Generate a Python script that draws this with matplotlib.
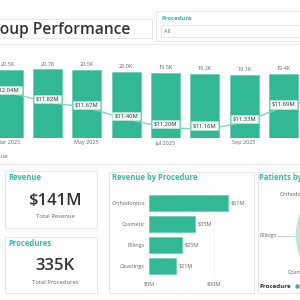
import matplotlib
matplotlib.use("Agg")
import matplotlib.pyplot as plt
from matplotlib.patches import Rectangle, PathPatch
from matplotlib.path import Path

plt.rcParams['font.family'] = ['Open Sans', 'DejaVu Sans']

# monthly combo chart (Feb and Nov sit mostly outside the visible crop)
months = ['Feb 2025', 'Mar 2025', 'Apr 2025', 'May 2025', 'Jun 2025',
          'Jul 2025', 'Aug 2025', 'Sep 2025', 'Oct 2025', 'Nov 2025']
procedures_k = [20.6, 20.5, 20.7, 20.5, 20.0, 19.5, 19.2, 19.1, 19.4, 19.8]
revenue_m = [12.10, 12.04, 11.82, 11.67, 11.40, 11.20, 11.16, 11.33, 11.69, 11.95]
labelled_months = ['Mar 2025', 'May 2025', 'Jul 2025', 'Sep 2025', 'Nov 2025']

# revenue by procedure
proc_names = ['Orthodontics', 'Cosmetic', 'Fillings', 'Cleanings']
proc_revenue_m = [61, 35, 25, 21]

# patients by procedure (pie is mostly off-canvas)
pie_names = ['Orthodontics', 'Fillings', 'Cosmetic', 'Cleanings']
pie_patients = [30, 22, 26, 22]

total_revenue = '$141M'
total_procedures = '335K'

TEAL = '#33B896'
TEAL_TXT = '#35BE9B'
LINE = '#80D5BD'
DARK = '#333333'
GRAY = '#666666'
BORDER = '#E3E3E3'

fig = plt.figure(figsize=(3, 3), dpi=100)
fig.patch.set_facecolor('white')


def px_axes(x0, y0, x1, y1, **kw):
    return fig.add_axes([x0 / 300, 1 - y1 / 300, (x1 - x0) / 300, (y1 - y0) / 300], **kw)


# overlay in pixel coords for cards and static text
ov = px_axes(0, 0, 300, 300)
ov.set_xlim(0, 300)
ov.set_ylim(300, 0)
ov.axis('off')


def card(x0, y0, x1, y1):
    ov.add_patch(Rectangle((x0, y0), x1 - x0, y1 - y0, fc='white', ec=BORDER, lw=0.6))


card(-10, 19, 152, 38)
ov.text(130, 29.5, 'Group Performance', ha='right', va='center', fontsize=11.2,
        fontweight='semibold', color=DARK)

card(156, 11, 310, 41)
ov.text(162, 18, 'Procedure', ha='left', va='center', fontsize=4.3, fontweight='bold', color=TEAL_TXT)
card(161, 25, 310, 37)
ov.text(163.5, 31.5, 'All', ha='left', va='center', fontsize=4, color=GRAY)

card(-10, 44, 310, 164)
ov.text(8, 156, 'Revenue', ha='right', va='center', fontsize=4.2, color=GRAY)

card(5, 171, 97, 228)
ov.text(8, 178, 'Revenue', ha='left', va='center', fontsize=5.5, fontweight='bold', color=TEAL_TXT)
ov.text(55, 201, total_revenue, ha='center', va='center', fontsize=12, fontweight='semibold', color=DARK)
ov.text(55, 217, 'Total Revenue', ha='center', va='center', fontsize=4.2, color=GRAY)

card(5, 237, 97, 293)
ov.text(8, 243.5, 'Procedures', ha='left', va='center', fontsize=5.5, fontweight='bold', color=TEAL_TXT)
ov.text(55, 266, total_procedures, ha='center', va='center', fontsize=12, fontweight='semibold', color=DARK)
ov.text(55, 283, 'Total Procedures', ha='center', va='center', fontsize=4.2, color=GRAY)

card(109, 172, 254, 293)
ov.text(112, 177.5, 'Revenue by Procedure', ha='left', va='center', fontsize=5.5,
        fontweight='bold', color=TEAL_TXT)

card(258, 172, 310, 293)
ov.text(259, 177.5, 'Patients by Procedure', ha='left', va='center', fontsize=5.5,
        fontweight='bold', color=TEAL_TXT)
ov.text(259, 286, 'Procedure', ha='left', va='center', fontsize=4.5, fontweight='bold', color=DARK)
ov.plot([297], [286], 'o', ms=2.2, color=TEAL)

# combo chart: bars + smoothed line
idx = list(range(len(months)))
ax = px_axes(0, 60, 300, 138)
ax.set_facecolor('none')
bars = ax.bar(idx, procedures_k, width=0.74, color=TEAL, edgecolor='#5CC9AC', lw=0.4)
ax.bar_label(bars, labels=[f'{v:.1f}K' for v in procedures_k], padding=2, fontsize=4, color=GRAY)
ax.set_yticks([])
ax.set_xticks([months.index(m) for m in labelled_months])
ax.set_xticklabels(labelled_months, fontsize=4, color=GRAY)
ax.tick_params(axis='x', length=0, pad=1.5)
for s in ax.spines.values():
    s.set_visible(False)

ax2 = ax.twinx()
ax2.axis('off')
pts = list(zip(idx, revenue_m))
verts = [pts[0]]
codes = [Path.MOVETO]
for i in range(len(pts) - 1):
    p0 = pts[max(i - 1, 0)]
    p1, p2 = pts[i], pts[i + 1]
    p3 = pts[min(i + 2, len(pts) - 1)]
    c1 = (p1[0] + (p2[0] - p0[0]) / 6, p1[1] + (p2[1] - p0[1]) / 6)
    c2 = (p2[0] - (p3[0] - p1[0]) / 6, p2[1] - (p3[1] - p1[1]) / 6)
    verts += [c1, c2, p2]
    codes += [Path.CURVE4] * 3
ax2.add_patch(PathPatch(Path(verts, codes), fc='none', ec=LINE, lw=1.0))
for x, v in zip(idx, revenue_m):
    ax2.annotate(f'${v:.2f}M', (x, v), xytext=(0, 2), textcoords='offset points',
                 ha='center', va='center', fontsize=4.2, color=DARK,
                 bbox=dict(boxstyle='square,pad=0.3', fc='#F1F8F5', ec='#BFE6D9', lw=0.5))
ax2.set_ylim(10.923, 12.859)
ax.set_ylim(0, 23.5)
ax.set_xlim(0.797, 8.419)
ax2.set_xlim(0.797, 8.419)

# horizontal bars
hb = px_axes(149, 190, 240, 277)
hb.set_facecolor('none')
yi = list(range(len(proc_names)))
hbars = hb.barh(yi, proc_revenue_m, height=0.78, color=TEAL, edgecolor='#5CC9AC', lw=0.4)
hb.bar_label(hbars, labels=[f'${v}M' for v in proc_revenue_m], padding=2, fontsize=4, color=GRAY)
hb.set_xlim(0, 70)
hb.set_ylim(3.54, -0.61)
hb.set_yticks(yi)
hb.set_yticklabels(proc_names, fontsize=4, color=GRAY)
hb.set_xticks([0, 50])
hb.set_xticklabels(['$0M', '$50M'], fontsize=4, color=GRAY)
hb.tick_params(length=0, pad=3)
hb.xaxis.grid(True, color='#EEEEEE', lw=0.5)
hb.set_axisbelow(True)
for s in hb.spines.values():
    s.set_visible(False)

# pie, mostly clipped by the figure edge
pa = px_axes(295.5, 172.5, 420.5, 297.5)
pa.pie(pie_patients, colors=['#B7EADB', '#86D9C0', '#5CC9AC', TEAL], startangle=120,
       counterclock=True, wedgeprops=dict(ec='white', lw=0.5))
pa.set_xlim(-1, 1)
pa.set_ylim(-1, 1)
pa.axis('off')
ov.text(280, 194, 'Orthodontics', ha='left', va='center', fontsize=4, color=GRAY)
ov.text(277, 236, 'Fillings', ha='right', va='center', fontsize=4, color=GRAY)
ov.plot([278, 295], [236, 236], color='#BBBBBB', lw=0.5)
ov.text(288, 272, 'Cosmetic', ha='left', va='center', fontsize=4, color=GRAY)

fig.savefig('out.png', dpi=100, facecolor='white')
